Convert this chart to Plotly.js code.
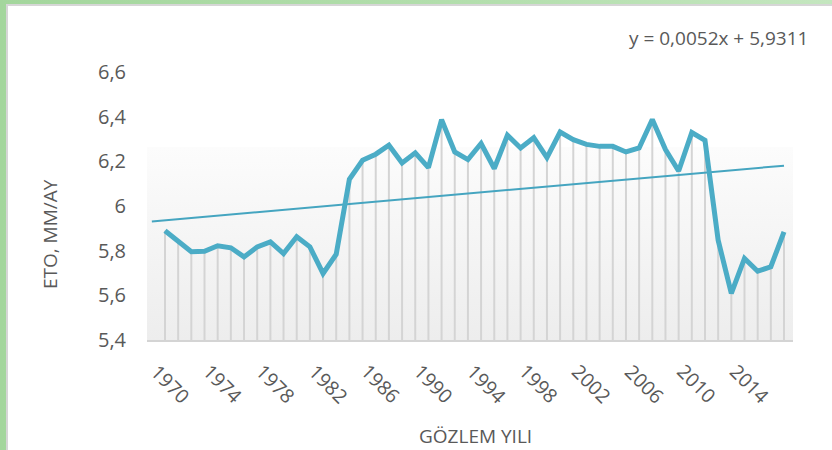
<!DOCTYPE html>
<html>
<head>
<meta charset="utf-8">
<script src="https://cdn.plot.ly/plotly-3.0.1.min.js"></script>
<style>
  html, body { margin:0; padding:0; width:832px; height:450px; overflow:hidden; }
  body { background: linear-gradient(90deg, #a3d69c 0%, #b4dfae 60%, #c4e6bf 100%); position:relative; }
  #sheet { position:absolute; left:6px; top:4px; right:0; bottom:0; background:#ffffff;
           border-left:2px solid #d6d6d6; border-top:2px solid #d6d6d6; }
  #bgfill { position:absolute; left:147px; top:147px; width:646px; height:193px;
            background: linear-gradient(180deg, #fcfcfc 0%, #ededed 100%); }
  #chart { position:absolute; left:0; top:0; width:832px; height:450px; }
</style>
</head>
<body>
<div id="sheet"></div>
<div id="bgfill"></div>
<div id="chart"></div>
<script>
// ---- data ----
const years = [1970,1971,1972,1973,1974,1975,1976,1977,1978,1979,
               1980,1981,1982,1983,1984,1985,1986,1987,1988,1989,
               1990,1991,1992,1993,1994,1995,1996,1997,1998,1999,
               2000,2001,2002,2003,2004,2005,2006,2007,2008,2009,
               2010,2011,2012,2013,2014,2015,2016,2017];
const eto = [5.889,5.844,5.795,5.797,5.822,5.813,5.772,5.817,5.839,5.787,
             5.862,5.817,5.698,5.784,6.120,6.205,6.232,6.272,6.193,6.238,
             6.172,6.387,6.242,6.208,6.280,6.168,6.317,6.260,6.306,6.217,
             6.331,6.297,6.276,6.267,6.267,6.242,6.260,6.387,6.253,6.157,
             6.329,6.294,5.847,5.609,5.765,5.708,5.728,5.884];
const xTickYears = [1970,1974,1978,1982,1986,1990,1994,1998,2002,2006,2010,2014];
const xTickText  = ["1970","1974","1978","1982","1986","1990","1994","1998","2002","2006","2010","2014"];
const yTickVals  = [5.4,5.6,5.8,6.0,6.2,6.4,6.6];
const yTickText  = ["5,4","5,6","5,8","6","6,2","6,4","6,6"];
const trendSlope = 0.0052;
const trendIntercept = 5.9311;
const trendYears = [1969, 2017];   // backward forecast one period
const equationText = "y = 0,0052x + 5,9311";
const xTitle = "GÖZLEM YILI";
const yTitle = "ETO, MM/AY";

// ---- derived ----
const yMin = 5.4, yMax = 6.6;
const firstYear = years[0];
const trendVals = trendYears.map(y => trendIntercept + trendSlope * (y - firstYear + 1));
const dropMinus = eto.map(v => v - yMin);
const dropPlus = eto.map(() => 0);

const textColor = "#595959";
const font = "'Open Sans', 'Liberation Sans', sans-serif";

const traces = [
  { // drop lines
    x: years, y: eto, type: "scatter", mode: "markers",
    marker: {size: 1, opacity: 0},
    error_y: {type: "data", symmetric: false, array: dropPlus, arrayminus: dropMinus,
              width: 0, thickness: 2, color: "#d4d4d4"},
    hoverinfo: "skip", showlegend: false
  },
  { // trend
    x: trendYears, y: trendVals, type: "scatter", mode: "lines",
    line: {color: "#45a5c0", width: 2}, hoverinfo: "skip", showlegend: false
  },
  { // series
    x: years, y: eto, type: "scatter", mode: "lines",
    line: {color: "#4bacc6", width: 5, shape: "linear"}, showlegend: false
  }
];

const annotations = [];
xTickYears.forEach((yr, i) => {
  annotations.push({
    x: yr, xref: "x", y: -0.164, yref: "paper",
    text: xTickText[i], showarrow: false, textangle: 45,
    xanchor: "center", yanchor: "middle", xshift: 5,
    font: {family: font, size: 19.5, color: textColor}
  });
});
annotations.push({
  x: 1.026, xref: "paper", y: 1.127, yref: "paper", text: equationText,
  showarrow: false, xanchor: "right", yanchor: "middle",
  font: {family: font, size: 19, color: textColor}
});
annotations.push({
  x: -0.150, xref: "paper", y: 0.3955, yref: "paper", text: yTitle,
  showarrow: false, textangle: -90, xanchor: "center", yanchor: "middle",
  font: {family: font, size: 19, color: textColor}
});
annotations.push({
  x: 0.509, xref: "paper", y: -0.358, yref: "paper", text: xTitle,
  showarrow: false, xanchor: "center", yanchor: "middle",
  font: {family: font, size: 19, color: textColor}
});

const layout = {
  width: 832, height: 450,
  margin: {l: 147, r: 39, t: 72, b: 110, pad: 0},
  paper_bgcolor: "rgba(0,0,0,0)", plot_bgcolor: "rgba(0,0,0,0)",
  showlegend: false,
  xaxis: {range: [1968.633, 2017.683], showgrid: false, zeroline: false,
          showticklabels: false, ticks: "", showline: true, linecolor: "#d4d4d4", linewidth: 2},
  yaxis: {range: [yMin, yMax], tickvals: yTickVals, ticktext: yTickText,
          showgrid: false, zeroline: false, showline: false, ticks: "",
          ticklabelstandoff: 20,
          tickfont: {family: font, size: 20, color: textColor}},
  annotations: annotations
};

Plotly.newPlot("chart", traces, layout, {staticPlot: true, displayModeBar: false});
</script>
</body>
</html>
